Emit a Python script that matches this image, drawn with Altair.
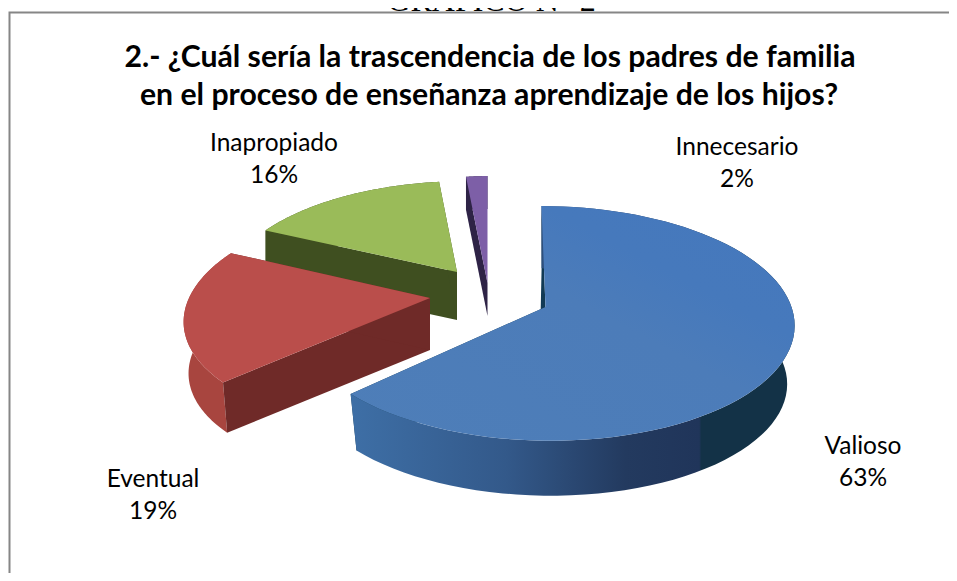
import math
import altair as alt
import pandas as pd

# ---- chart values ----
categories = ["Valioso", "Eventual", "Inapropiado", "Innecesario"]
percents = [63, 19, 16, 2]
title_lines = ["2.- ¿Cuál sería la trascendencia de los padres de familia",
               "en el proceso de enseñanza aprendizaje de los hijos?"]
caption = "GRÁFICO N° 2"


def grad(x1, y1, x2, y2, stops):
    return alt.LinearGradient(gradient="linear", x1=x1, y1=y1, x2=x2, y2=y2,
                              stops=[alt.GradientStop(offset=o, color=c) for o, c in stops])


# ---- layout / style (not data) ----
W, H = 941, 565
RX, RY, K = 246, 115, 0.14
slices = {
    "Valioso": dict(apex=(545.5, 307), s=1.0, sx=1.0, shear=0.04, depth=59, f=0.97, back=-6, rim_first=False,
                    top=grad(0, 1, 1, 0, [(0, "#4E7EB8"), (0.55, "#4C7CB9"), (0.72, "#4679BC"), (1, "#4578BD")]),
                    rim=grad(0, 0, 1, 0, [(0, "#3E6FA6"), (0.35, "#33598A"), (0.62, "#233A5F"),
                                          (0.785, "#20355A"), (0.79, "#133247"), (1, "#133247")]),
                    side="#123A55"),
    "Eventual": dict(apex=(430, 298), s=0.97, sx=1.01, shear=-0.15, depth=52, f=0.98, back=0, rim_first=True,
                     top="#BA4E4B", rim="#A8453F", side="#6F2A28"),
    "Inapropiado": dict(apex=(457, 272), s=0.9, sx=1.03, shear=-0.08, depth=48, f=1.0, back=0, rim_first=True,
                        top="#9ABB59", rim="#3F4F20", side="#3F4F20"),
    "Innecesario": dict(apex=(487.5, 283), s=1.06, sx=0.75, shear=0.0, depth=33, f=1.0, back=0, rim_first=True,
                        top="#7D5FA7", rim="#2E2346", side="#2E2346"),
}
labels = {
    "Valioso": (863, 447),
    "Eventual": (153, 480),
    "Inapropiado": (274, 144),
    "Innecesario": (737, 148),
}
draw_order = ["Innecesario", "Inapropiado", "Eventual", "Valioso"]

xs = alt.Scale(domain=[8, 8 + W], range=[0, W], nice=False, zero=False)
ys = alt.Scale(domain=[8, 8 + H], range=[0, H], nice=False, zero=False)


def project(a, cfg, lower=False):
    u, v = math.sin(a), -math.cos(a)
    den = 1 - K * v
    f = cfg["f"] if lower else 1.0
    dx = RX * u / den * cfg["s"] * cfg["sx"] * f
    dy = RY * v / den * cfg["s"] * f
    return (cfg["apex"][0] + dx + cfg["shear"] * dy,
            cfg["apex"][1] + dy + (cfg["depth"] if lower else 0))


def poly(points, fill):
    df = pd.DataFrame({"x": [p[0] for p in points], "y": [p[1] for p in points],
                       "i": range(len(points))})
    return alt.Chart(df).mark_line(fill=fill, strokeWidth=0, strokeOpacity=0).encode(
        x=alt.X("x:Q", scale=xs, axis=None),
        y=alt.Y("y:Q", scale=ys, axis=None),
        order="i:Q",
    )


layers = []
total = sum(percents)
angles = {}
running = 0.0
for name, pct in zip(categories, percents):
    angles[name] = (running, running + pct / total * 2 * math.pi)
    running = angles[name][1]

# caption, cut by the top edge as in the source
cap = pd.DataFrame({"x": [491.5], "y": [11], "t": [caption]})
layers.append(alt.Chart(cap).mark_text(font="Liberation Serif", fontSize=32, baseline="alphabetic",
                                       align="center", color="#000000").encode(
    x=alt.X("x:Q", scale=xs, axis=None), y=alt.Y("y:Q", scale=ys, axis=None), text="t:N"))

for name in draw_order:
    cfg = slices[name]
    a0, a1 = angles[name]
    n = 80
    arc = [a0 + (a1 - a0) * t / n for t in range(n + 1)]
    top_rim = [project(a, cfg) for a in arc]
    low_rim = [project(a, cfg, True) for a in arc]
    ax, ay = cfg["apex"]
    low_apex = (ax + cfg["back"], ay + cfg["depth"])
    rim_layer = poly(top_rim + low_rim[::-1], cfg["rim"])
    if cfg["rim_first"]:
        layers.append(rim_layer)
    # radial walls
    layers.append(poly([(ax, ay), top_rim[0], low_rim[0], low_apex], cfg["side"]))
    layers.append(poly([(ax, ay), top_rim[-1], low_rim[-1], low_apex], cfg["side"]))
    if not cfg["rim_first"]:
        layers.append(rim_layer)
    # top face
    layers.append(poly([(ax, ay)] + top_rim, cfg["top"]))

# frame
frame = pd.DataFrame({"x": [9.5, 9.5, 8 + W], "y": [8 + H, 12.5, 12.5], "i": [0, 1, 2]})
layers.append(alt.Chart(frame).mark_line(color="#868686", strokeWidth=2).encode(
    x=alt.X("x:Q", scale=xs, axis=None), y=alt.Y("y:Q", scale=ys, axis=None), order="i:Q"))

# title
ttl = pd.DataFrame({"x": [490, 489], "y": [67, 105], "t": title_lines})
layers.append(alt.Chart(ttl).mark_text(font="Lato", fontWeight="bold", fontSize=30.2,
                                       baseline="alphabetic", align="center", color="#000000").encode(
    x=alt.X("x:Q", scale=xs, axis=None), y=alt.Y("y:Q", scale=ys, axis=None), text="t:N"))

# data labels
rows = []
for name, pct in zip(categories, percents):
    lx, ly = labels[name]
    rows.append({"x": lx, "y": ly, "t": name})
    rows.append({"x": lx, "y": ly + 32, "t": f"{pct}%"})
lab = pd.DataFrame(rows)
layers.append(alt.Chart(lab).mark_text(font="Lato", fontSize=24.5, baseline="middle",
                                       align="center", color="#000000").encode(
    x=alt.X("x:Q", scale=xs, axis=None), y=alt.Y("y:Q", scale=ys, axis=None), text="t:N"))

chart = alt.layer(*layers).properties(
    width=W, height=H, padding=0, background="white",
    autosize=alt.AutoSizeParams(type="none"),
).configure_view(stroke=None)
chart.save("out.html", embed_options={"renderer": "svg", "actions": False})
